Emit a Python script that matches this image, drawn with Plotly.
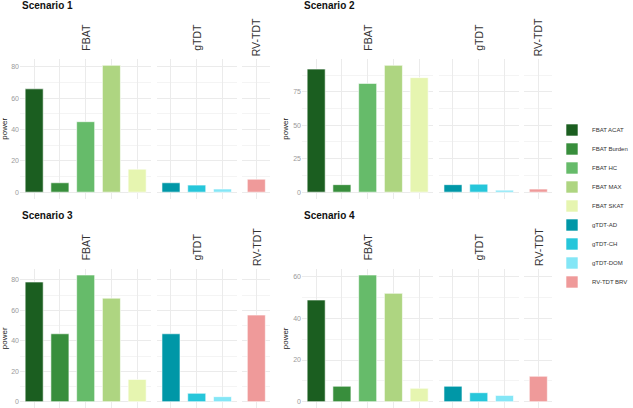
import plotly.graph_objects as go

# ---------------- data ----------------
scenarios = ["Scenario 1", "Scenario 2", "Scenario 3", "Scenario 4"]
groups = ["FBAT", "gTDT", "RV-TDT"]
fbat_methods = ["FBAT ACAT", "FBAT Burden", "FBAT HC", "FBAT MAX", "FBAT SKAT"]
gtdt_methods = ["gTDT-AD", "gTDT-CH", "gTDT-DOM"]
rvtdt_methods = ["RV-TDT BRV"]

fbat_power = [
    [66, 6, 45, 81, 14.7],
    [92, 5.6, 81.3, 94.8, 85.6],
    [78.6, 44.6, 83.2, 68, 14.6],
    [48.8, 7.4, 60.8, 52, 6.4],
]
gtdt_power = [
    [6, 4.5, 2],
    [5.6, 6, 1.5],
    [44.6, 5.5, 3.3],
    [7.4, 4.3, 3],
]
rvtdt_power = [
    [8.3],
    [2.3],
    [56.9],
    [12.2],
]
y_dticks = [20, 25, 20, 20]

colors = {
    "FBAT ACAT": "#1b5e20",
    "FBAT Burden": "#388e3c",
    "FBAT HC": "#66bb6a",
    "FBAT MAX": "#aed581",
    "FBAT SKAT": "#e6f5b0",
    "gTDT-AD": "#0097a7",
    "gTDT-CH": "#26c6da",
    "gTDT-DOM": "#84e6f6",
    "RV-TDT BRV": "#ef9a9a",
}

# ---------------- layout geometry (pixels) ----------------
W, H = 633, 408
unit = 25.75          # px per category
gap = 5.5             # px between facet panels
pad = 0.55            # category padding
col_x0 = [20.0, 302.0]
row_y = [(59.0, 198.5), (268.7, 408.0)]

def px_x(v):
    return v / W

def px_y(v):
    return 1 - v / H

fig = go.Figure()
layout = dict()
annotations = []

method_groups = [fbat_methods, gtdt_methods, rvtdt_methods]
ax_n = 0
for s, scen in enumerate(scenarios):
    col = s % 2
    row = s // 2
    values_by_group = [fbat_power[s], gtdt_power[s], rvtdt_power[s]]
    ymax = max(max(v) for v in values_by_group)
    yname = f"yaxis{s + 1 if s else ''}"
    yref = f"y{s + 1 if s else ''}"
    y0, y1 = row_y[row]
    x_cursor = col_x0[col]
    first_x = None
    for g, (grp, methods, vals) in enumerate(zip(groups, method_groups, values_by_group)):
        ax_n += 1
        xname = f"xaxis{ax_n if ax_n > 1 else ''}"
        xref = f"x{ax_n if ax_n > 1 else ''}"
        if first_x is None:
            first_x = xref
        width_px = (len(methods) - 1 + 2 * pad) * unit
        dom = [px_x(x_cursor), px_x(x_cursor + width_px)]
        x_cursor += width_px + gap
        for m, v in zip(methods, vals):
            fig.add_trace(go.Bar(
                x=[m], y=[v], name=m, legendgroup=m,
                showlegend=(s == 0),
                marker=dict(color=colors[m], line=dict(color="white", width=0.6)),
                width=0.7, xaxis=xref, yaxis=yref,
            ))
        layout[xname] = dict(
            domain=dom, anchor=yref, type="category",
            categoryorder="array", categoryarray=methods,
            range=[-pad, len(methods) - 1 + pad],
            showticklabels=False, ticks="", showline=False, zeroline=False,
            showgrid=True, gridcolor="#ebebeb", gridwidth=1,
        )
        annotations.append(dict(
            text=grp, xref=f"{xref} domain", x=0.5, yref="paper", y=px_y(y0 - 22),
            textangle=-90, showarrow=False, xanchor="center", yanchor="middle",
            font=dict(family="Liberation Sans, Arial", size=10.5, color="#333333"),
        ))
    layout[yname] = dict(
        domain=[max(0, px_y(y1)), px_y(y0)], anchor=first_x,
        range=[-0.05 * ymax, 1.05 * ymax], dtick=y_dticks[s], tick0=0,
        showgrid=True, gridcolor="#ebebeb", gridwidth=1,
        minor=dict(showgrid=True, gridcolor="#f4f4f4", gridwidth=0.6, dtick=y_dticks[s] / 2),
        zeroline=False, showline=False, ticks="",
        tickfont=dict(family="Liberation Sans, Arial", size=7, color="#9a9a9a"),
        title=dict(text="power", standoff=3,
                   font=dict(family="Liberation Sans, Arial", size=8, color="#222222")),
    )
    annotations.append(dict(
        text=f"<b>{scen}</b>", xref="paper", yref="paper",
        x=px_x(col_x0[col]), y=px_y(y0 - 53), xanchor="left", yanchor="middle",
        showarrow=False,
        font=dict(family="Liberation Sans, Arial", size=10, color="#111111"),
    ))

fig.update_layout(
    **layout,
    annotations=annotations,
    width=W, height=H,
    margin=dict(l=0, r=0, t=0, b=0, autoexpand=False),
    paper_bgcolor="white", plot_bgcolor="white",
    barmode="overlay",
    showlegend=True,
    legend=dict(
        x=px_x(552), y=px_y(206), xanchor="left", yanchor="middle",
        font=dict(family="Liberation Sans, Arial", size=6, color="#333333"),
        tracegroupgap=0, itemwidth=30, bgcolor="rgba(0,0,0,0)",
    ),
)

fig.write_html(
    "out.html",
    config={"displayModeBar": False},
    post_script="document.body.style.margin='0';document.body.style.overflow='hidden';",
)
